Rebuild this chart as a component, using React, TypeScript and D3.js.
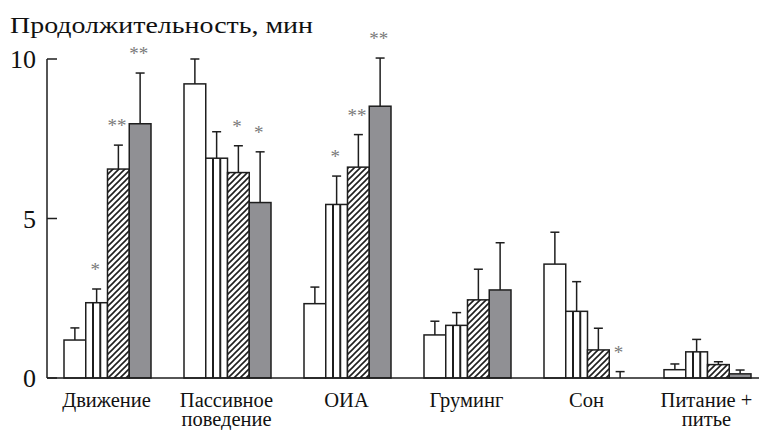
import React from "react";
import * as d3 from "d3";

const categories = ["Движение", "Пассивное поведение", "ОИА", "Груминг", "Сон", "Питание + питье"];
const categoryLines = [["Движение"], ["Пассивное", "поведение"], ["ОИА"], ["Груминг"], ["Сон"], ["Питание +", "питье"]];
const seriesKeys = ["s1", "s2", "s3", "s4"];
const s1Values = [1.19, 9.22, 2.33, 1.35, 3.57, 0.26];
const s2Values = [2.36, 6.89, 5.44, 1.65, 2.09, 0.82];
const s3Values = [6.55, 6.44, 6.61, 2.45, 0.88, 0.42];
const s4Values = [7.97, 5.5, 8.52, 2.76, 0, 0.13];
const s1Errors = [0.38, 0.78, 0.52, 0.43, 1.0, 0.18];
const s2Errors = [0.43, 0.83, 0.89, 0.4, 0.93, 0.39];
const s3Errors = [0.75, 0.84, 1.02, 0.96, 0.68, 0.09];
const s4Errors = [1.59, 1.59, 1.51, 1.48, 0.2, 0.12];
const s1Stars = ["", "", "", "", "", ""];
const s2Stars = ["*", "", "*", "", "", ""];
const s3Stars = ["**", "*", "**", "", "", ""];
const s4Stars = ["**", "*", "**", "", "*", ""];
const yTicks = [0, 5, 10];
const yTitle = "Продолжительность, мин";

const W = 759;
const H = 430;
const axisX = 47;
const baseY = 378;
const topY = 59;
const ink = "#1e1e1e";

export default function App() {
  const values = [s1Values, s2Values, s3Values, s4Values];
  const errors = [s1Errors, s2Errors, s3Errors, s4Errors];
  const stars = [s1Stars, s2Stars, s3Stars, s4Stars];

  const y = d3.scaleLinear().domain([0, 10]).range([baseY, topY]);
  const x = d3
    .scaleBand<string>()
    .domain(categories)
    .range([axisX, 768])
    .paddingInner(0.275)
    .paddingOuter(0.1417);
  const xs = d3.scaleBand<string>().domain(seriesKeys).range([0, x.bandwidth()]).padding(0);
  const bw = xs.bandwidth();

  const fills = ["#ffffff", "#ffffff", "url(#hatch)", "#909094"];

  return (
    <svg
      width={W}
      height={H}
      viewBox={`0 0 ${W} ${H}`}
      style={{ position: "absolute", left: 0, top: 0, background: "#fff" }}
    >
      <defs>
        <pattern id="hatch" patternUnits="userSpaceOnUse" width={6} height={6}>
          <rect width={6} height={6} fill="#fff" />
          <path d="M-1,7 L7,-1 M-4,4 L4,-4 M2,10 L10,2" stroke={ink} strokeWidth={1.6} />
        </pattern>
      </defs>

      <g style={{ fontFamily: "Liberation Serif" }}>
        <text
          x={10}
          y={33}
          fontSize={24}
          fill="#111"
          textLength={303}
          lengthAdjust="spacingAndGlyphs"
        >
          {yTitle}
        </text>

        {yTicks.map((t) => (
          <g key={t}>
            <line x1={axisX} x2={axisX + 10} y1={y(t)} y2={y(t)} stroke={ink} strokeWidth={1.5} />
            <text x={axisX - 11} y={y(t) + 9} textAnchor="end" fontSize={26} fill="#111">
              {String(t)}
            </text>
          </g>
        ))}

        {categories.map((c, ci) => (
          <g key={c}>
            {seriesKeys.map((s, si) => {
              const v = values[si][ci];
              const e = errors[si][ci];
              const x0 = (x(c) as number) + (xs(s) as number);
              const cx = x0 + bw / 2;
              const yTop = y(v);
              const yErr = y(v + e);
              return (
                <g key={s}>
                  {v > 0 && (
                    <rect
                      x={x0}
                      y={yTop}
                      width={bw}
                      height={baseY - yTop}
                      fill={fills[si]}
                      stroke={ink}
                      strokeWidth={1.5}
                    />
                  )}
                  {si === 1 && v > 0 && (
                    <g>
                      <line x1={x0 + bw / 3} x2={x0 + bw / 3} y1={yTop} y2={baseY} stroke={ink} strokeWidth={2} />
                      <line x1={x0 + (2 * bw) / 3} x2={x0 + (2 * bw) / 3} y1={yTop} y2={baseY} stroke={ink} strokeWidth={2} />
                    </g>
                  )}
                  <line x1={cx} x2={cx} y1={yTop} y2={yErr} stroke={ink} strokeWidth={1.5} />
                  <line x1={cx - 4.5} x2={cx + 4.5} y1={yErr} y2={yErr} stroke={ink} strokeWidth={1.5} />
                  {stars[si][ci] && (
                    <text x={cx - 1.5} y={yErr - 13} textAnchor="middle" fontSize={19} fill="#7a7a7a">
                      {stars[si][ci]}
                    </text>
                  )}
                </g>
              );
            })}
            {categoryLines[ci].map((ln, li) => (
              <text
                key={li}
                x={(x(c) as number) + x.bandwidth() / 2 - 1}
                y={407 + li * 19}
                textAnchor="middle"
                fontSize={20.5}
                fill="#111"
              >
                {ln}
              </text>
            ))}
          </g>
        ))}
      </g>

      <line x1={axisX} x2={axisX} y1={topY} y2={baseY} stroke={ink} strokeWidth={1.5} />
      <line x1={axisX} x2={W} y1={baseY} y2={baseY} stroke={ink} strokeWidth={1.5} />
    </svg>
  );
}
